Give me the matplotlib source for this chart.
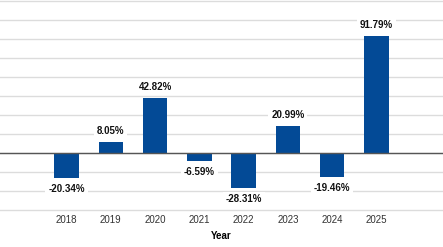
import matplotlib
matplotlib.use("Agg")
import matplotlib.pyplot as plt

years = ["2018", "2019", "2020", "2021", "2022", "2023", "2024", "2025"]
returns = [-20.34, 8.05, 42.82, -6.59, -28.31, 20.99, -19.46, 91.79]
labels = ["-20.34%", "8.05%", "42.82%", "-6.59%", "-28.31%", "20.99%", "-19.46%", "91.79%"]

fam = ["Liberation Sans Narrow", "Liberation Sans", "DejaVu Sans"]
plt.rcParams['font.family'] = fam

fig = plt.figure(figsize=(4.43, 2.47), dpi=100)
ax = fig.add_axes([0, 1 - 209.5/247, 1, 209/247])
x = list(range(len(years)))
ax.bar(x, returns, width=0.55, color="#034a96", zorder=3)
ax.set_xlim(-1.5, 8.5)
ax.set_ylim(-45, 120)
ax.set_yticks(range(-45, 121, 15))
ax.yaxis.grid(True, color="#dcdcdc", linewidth=1.0, zorder=0)
for gl in ax.get_ygridlines():
    gl.set_clip_on(False)
ax.axhline(0, color="#555555", linewidth=1.0, zorder=4)
ax.tick_params(axis='y', left=False, labelleft=False)
ax.set_xticks(x)
ax.set_xticklabels(years, fontsize=7, color="#333333")
ax.tick_params(axis='x', length=0, pad=4)
for s in ax.spines.values():
    s.set_visible(False)
for xi, v, lab in zip(x, returns, labels):
    off = 8 if v >= 0 else -8
    ax.annotate(lab, (xi, v), xytext=(0, off), textcoords="offset points",
                ha="center", va="center", fontsize=7, fontweight="bold",
                color="#111111", zorder=5,
                bbox=dict(boxstyle="square,pad=0.3", fc="white", ec="none"))
ax.set_xlabel("Year", fontsize=7, fontweight="bold", labelpad=4)
fig.savefig("out.png", dpi=100)
